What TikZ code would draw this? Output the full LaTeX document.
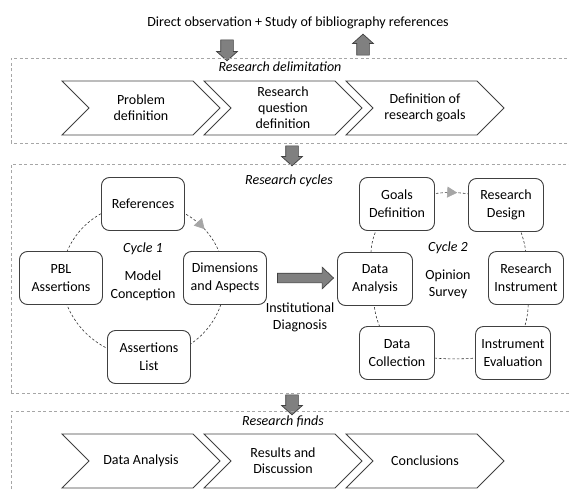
\documentclass[tikz,border=0pt]{standalone}
\usepackage{fontspec}
\setmainfont{Carlito}
\usetikzlibrary{shapes.symbols,shapes.arrows,arrows.meta,decorations.markings,backgrounds}

\tikzset{
  heading/.style={inner sep=0pt, align=center, font=\fontsize{14}{17}\selectfont},
  stage/.style={signal, signal from=west, signal to=east, signal pointer angle=90,
    draw=black!75, line width=0.9pt, minimum width=158pt, minimum height=54pt,
    inner sep=0pt, align=center, font=\fontsize{14}{16}\selectfont},
  phase/.style={draw=black!75, line width=0.9pt, rounded corners=8pt, fill=white,
    minimum width=83pt, minimum height=53pt, inner sep=1pt, align=center,
    font=\fontsize{14}{18}\selectfont},
  phasetwo/.style={phase, minimum width=75pt},
  areabox/.style={draw=black!35, line width=0.6pt, dash pattern=on 3pt off 2.5pt},
  cycleline/.style={draw=black!80, line width=0.6pt, dash pattern=on 2.5pt off 2pt},
  cyclemark/.style={postaction={decorate}, decoration={markings,
    mark=at position #1 with {\arrow[black!35]{Triangle[length=10pt,width=11pt]}}}},
  flow/.style={single arrow, draw=black!75, fill=black!50, line width=0.7pt,
    minimum height=21pt, inner xsep=0pt, inner ysep=6pt,
    single arrow head extend=4pt, single arrow tip angle=96}
}

\begin{document}
\begin{tikzpicture}[x=1pt,y=1pt]
\useasboundingbox (0,0) rectangle (569,491);
\clip (0,0) rectangle (569,491);

% source of the study
\node[heading] (source) at (298,468) {Direct observation + Study of bibliography references};
\node[flow, rotate=-90] (into) at (227,443.5) {};
\node[flow, rotate=90] (back) at (363,443.5) {};

% research delimitation
\draw[areabox] (11,348) rectangle (600,433);
\node[heading] (delim) at (280,424) {\textit{Research delimitation}};
\node[stage] (problem) at (141,383) {Problem\\definition};
\node[stage] (question) at (283,383) {Research\\question\\definition};
\node[stage] (goals) at (425,383) {Definition of\\research goals};

\node[flow, rotate=-90, minimum height=20pt] (tocycles) at (292,338) {};

% research cycles
\draw[areabox] (11,98) rectangle (600,327);
\node[heading] (cycles) at (289,310) {\textit{Research cycles}};

\node[phase] (refs) at (143,287) {References};
\node[phase] (dims) at (225,213) {Dimensions\\and Aspects};
\node[phase] (list) at (149,134) {Assertions\\List};
\node[phase] (pbl)  at (61,213)  {PBL\\Assertions};
\node[heading] (cycone) at (143,242) {\textit{Cycle 1}};
\node[heading, font=\fontsize{14}{18}\selectfont] (model) at (143,205) {Model\\Conception};

\node[flow, minimum height=56pt, inner ysep=4.5pt, single arrow head extend=6pt,
  single arrow tip angle=87] (diag) at (303,213) {};
\node[heading] (diagtxt) at (300,173.5) {Institutional\\Diagnosis};

\node[phasetwo] (gdef)   at (397,287) {Goals\\Definition};
\node[phasetwo] (design) at (506,286) {Research\\Design};
\node[phasetwo] (instr)  at (526,213) {Research\\Instrument};
\node[phasetwo] (eval)   at (513,138) {Instrument\\Evaluation};
\node[phasetwo] (coll)   at (397,138) {Data\\Collection};
\node[phasetwo] (anal)   at (375,212) {Data\\Analysis};
\node[heading] (cyctwo) at (448,243) {\textit{Cycle 2}};
\node[heading] (survey) at (448,206.5) {Opinion\\Survey};

\begin{scope}[on background layer]
\draw[cycleline, cyclemark=0.56] (refs.center) to[bend left=45] (dims.center);
\draw[cycleline] (dims.center) to[bend left=45] (list.center);
\draw[cycleline] (list.center) to[bend left=45] (pbl.center);
\draw[cycleline] (pbl.center) to[bend left=45] (refs.center);

\draw[cycleline, cyclemark=0.55] (gdef.center) to[bend left=22] (design.center);
\draw[cycleline] (design.center) to[bend left=20] (instr.center);
\draw[cycleline] (instr.center) to[bend left=20] (eval.center);
\draw[cycleline] (eval.center) to[bend left=10] (coll.center);
\draw[cycleline] (coll.center) to[bend left=25] (anal.center);
\draw[cycleline] (anal.center) to[bend left=35] (gdef.center);
\end{scope}

\node[flow, rotate=-90, minimum height=20pt] (tofinds) at (292,89) {};

% research finds
\draw[areabox] (11,-20) rectangle (600,80);
\node[heading] (finds) at (283,70) {\textit{Research finds}};
\node[stage] (analysis) at (141,30) {Data Analysis};
\node[stage] (results) at (283,30) {Results and\\Discussion};
\node[stage] (concl) at (425,30) {Conclusions};

\end{tikzpicture}
\end{document}
